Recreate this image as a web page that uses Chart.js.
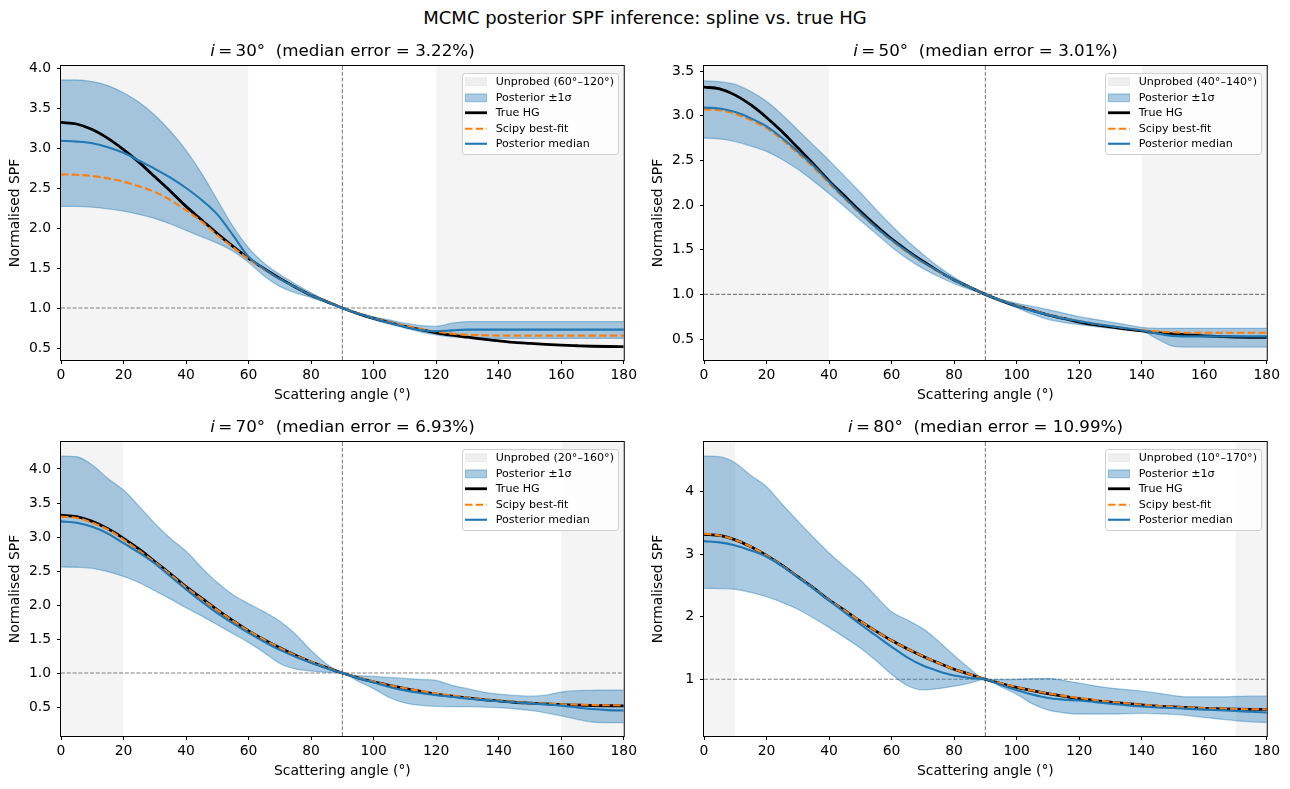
<!DOCTYPE html>
<html>
<head>
<meta charset="utf-8">
<script src="https://cdn.jsdelivr.net/npm/chart.js@4.4.1/dist/chart.umd.min.js"></script>
<style>
  body { margin: 0; width: 1290px; height: 789px; background: #fff; position: relative; overflow: hidden;
         font-family: "DejaVu Sans", sans-serif; color: #000; }
  .suptitle { position: absolute; left: 0; width: 1290px; top: 7px; line-height: 22px; text-align: center; font-size: 18px; }
  .ptitle { position: absolute; width: 563px; line-height: 20px; text-align: center; font-size: 16.7px; white-space: pre; }
  .leg { position: absolute; background: rgba(255,255,255,0.8); border: 1px solid #d0d0d0; border-radius: 3px;
         padding: 0 4px 2px 2px; font-size: 11.1px; }
  .row { display: flex; align-items: center; height: 15.5px; white-space: nowrap; }
  .row svg { width: 22px; height: 15.5px; margin-right: 8.5px; flex: none; }
</style>
</head>
<body>
<div class="suptitle">MCMC posterior SPF inference: spline vs. true HG</div>

<script>
// scattering angles (deg), every 5 deg
const angles = [0, 5, 10, 15, 20, 25, 30, 35, 40, 45, 50, 55, 60, 65, 70, 75, 80, 85, 90,
                95, 100, 105, 110, 115, 120, 125, 130, 135, 140, 145, 150, 155, 160, 165, 170, 175, 180];
const xTicks = [0, 20, 40, 60, 80, 100, 120, 140, 160, 180];

// true HG (same in all panels)
const trueHG = [3.32, 3.30, 3.23, 3.12, 2.98, 2.82, 2.64, 2.46, 2.27, 2.10, 1.93, 1.77, 1.62, 1.49, 1.37, 1.26, 1.16, 1.08, 1.00,
                0.93, 0.87, 0.82, 0.77, 0.73, 0.69, 0.66, 0.635, 0.61, 0.59, 0.57, 0.557, 0.545, 0.535, 0.528, 0.522, 0.519, 0.518];

// i = 30
const upper30  = [3.85, 3.85, 3.83, 3.78, 3.69, 3.57, 3.41, 3.21, 2.97, 2.68, 2.35, 2.02, 1.75, 1.56, 1.42, 1.30, 1.19, 1.09, 1.00,
                  0.94, 0.89, 0.85, 0.81, 0.78, 0.77, 0.81, 0.83, 0.83, 0.83, 0.83, 0.83, 0.83, 0.83, 0.83, 0.83, 0.83, 0.83];
const lower30  = [2.27, 2.27, 2.26, 2.24, 2.21, 2.17, 2.12, 2.05, 1.97, 1.89, 1.81, 1.71, 1.57, 1.40, 1.27, 1.19, 1.13, 1.065, 1.00,
                  0.92, 0.855, 0.80, 0.75, 0.70, 0.665, 0.64, 0.63, 0.625, 0.62, 0.62, 0.62, 0.62, 0.62, 0.62, 0.62, 0.62, 0.62];
const median30 = [3.09, 3.08, 3.06, 3.01, 2.94, 2.84, 2.74, 2.63, 2.50, 2.35, 2.17, 1.91, 1.64, 1.49, 1.36, 1.26, 1.16, 1.08, 1.00,
                  0.93, 0.87, 0.815, 0.765, 0.725, 0.71, 0.72, 0.73, 0.73, 0.73, 0.73, 0.73, 0.73, 0.73, 0.73, 0.73, 0.73, 0.73];
const scipy30  = [2.67, 2.665, 2.65, 2.62, 2.58, 2.52, 2.45, 2.35, 2.22, 2.08, 1.91, 1.76, 1.61, 1.48, 1.36, 1.26, 1.16, 1.08, 1.00,
                  0.935, 0.875, 0.825, 0.78, 0.74, 0.705, 0.68, 0.665, 0.66, 0.655, 0.655, 0.655, 0.655, 0.655, 0.655, 0.655, 0.655, 0.655];

// i = 50
const upper50  = [3.39, 3.38, 3.35, 3.27, 3.16, 3.01, 2.84, 2.67, 2.50, 2.32, 2.14, 1.95, 1.77, 1.60, 1.45, 1.31, 1.19, 1.09, 1.00,
                  0.945, 0.90, 0.865, 0.83, 0.79, 0.75, 0.72, 0.69, 0.66, 0.63, 0.62, 0.62, 0.62, 0.62, 0.62, 0.62, 0.62, 0.62];
const lower50  = [2.75, 2.74, 2.71, 2.66, 2.60, 2.51, 2.40, 2.27, 2.13, 1.98, 1.83, 1.68, 1.53, 1.40, 1.29, 1.20, 1.12, 1.055, 1.00,
                  0.92, 0.85, 0.78, 0.72, 0.685, 0.66, 0.64, 0.62, 0.605, 0.59, 0.50, 0.42, 0.41, 0.41, 0.41, 0.41, 0.41, 0.41];
const median50 = [3.09, 3.08, 3.04, 2.97, 2.88, 2.75, 2.60, 2.44, 2.26, 2.08, 1.91, 1.75, 1.61, 1.48, 1.36, 1.26, 1.16, 1.08, 1.00,
                  0.93, 0.87, 0.815, 0.77, 0.73, 0.70, 0.67, 0.645, 0.62, 0.595, 0.56, 0.535, 0.53, 0.53, 0.53, 0.53, 0.53, 0.53];
const scipy50  = [3.07, 3.06, 3.02, 2.95, 2.86, 2.73, 2.58, 2.42, 2.24, 2.07, 1.90, 1.745, 1.60, 1.47, 1.355, 1.255, 1.16, 1.08, 1.00,
                  0.935, 0.875, 0.82, 0.775, 0.735, 0.70, 0.67, 0.645, 0.62, 0.60, 0.585, 0.575, 0.57, 0.57, 0.57, 0.57, 0.57, 0.57];

// i = 70
const upper70  = [4.19, 4.18, 4.06, 3.86, 3.69, 3.45, 3.20, 2.98, 2.79, 2.55, 2.33, 2.15, 2.02, 1.90, 1.76, 1.57, 1.33, 1.13, 1.00,
                  0.96, 0.95, 0.935, 0.92, 0.905, 0.89, 0.82, 0.77, 0.72, 0.69, 0.67, 0.66, 0.675, 0.72, 0.74, 0.745, 0.75, 0.75];
const lower70  = [2.56, 2.555, 2.54, 2.49, 2.42, 2.33, 2.21, 2.09, 1.96, 1.84, 1.71, 1.58, 1.45, 1.30, 1.14, 1.06, 1.03, 1.01, 1.00,
                  0.88, 0.77, 0.64, 0.56, 0.525, 0.51, 0.505, 0.505, 0.50, 0.49, 0.475, 0.45, 0.415, 0.37, 0.32, 0.28, 0.27, 0.27];
const median70 = [3.23, 3.21, 3.15, 3.05, 2.91, 2.77, 2.61, 2.42, 2.23, 2.05, 1.88, 1.73, 1.59, 1.46, 1.34, 1.24, 1.15, 1.07, 1.00,
                  0.925, 0.86, 0.795, 0.745, 0.705, 0.675, 0.65, 0.625, 0.605, 0.585, 0.57, 0.555, 0.54, 0.52, 0.495, 0.47, 0.455, 0.45];
const scipy70  = [3.30, 3.28, 3.21, 3.11, 2.96, 2.80, 2.63, 2.45, 2.26, 2.09, 1.925, 1.765, 1.62, 1.49, 1.37, 1.26, 1.165, 1.08, 1.00,
                  0.935, 0.875, 0.82, 0.775, 0.735, 0.70, 0.67, 0.64, 0.615, 0.595, 0.575, 0.56, 0.55, 0.54, 0.535, 0.53, 0.527, 0.525];

// i = 80
const upper80  = [4.57, 4.56, 4.46, 4.26, 4.08, 3.80, 3.53, 3.27, 3.02, 2.80, 2.59, 2.33, 2.08, 1.95, 1.81, 1.61, 1.38, 1.17, 1.00,
                  0.995, 1.00, 1.01, 1.015, 0.98, 0.94, 0.895, 0.86, 0.835, 0.81, 0.78, 0.74, 0.72, 0.72, 0.72, 0.725, 0.73, 0.73];
const lower80  = [2.455, 2.45, 2.44, 2.39, 2.32, 2.23, 2.12, 1.98, 1.83, 1.67, 1.50, 1.30, 1.08, 0.90, 0.83, 0.85, 0.89, 0.94, 1.00,
                  0.88, 0.76, 0.61, 0.51, 0.465, 0.445, 0.445, 0.445, 0.45, 0.455, 0.45, 0.44, 0.42, 0.39, 0.365, 0.34, 0.32, 0.31];
const median80 = [3.21, 3.19, 3.14, 3.06, 2.96, 2.81, 2.63, 2.45, 2.26, 2.07, 1.88, 1.70, 1.52, 1.35, 1.22, 1.13, 1.06, 1.02, 1.00,
                  0.91, 0.83, 0.755, 0.70, 0.675, 0.66, 0.635, 0.61, 0.585, 0.565, 0.55, 0.54, 0.527, 0.515, 0.505, 0.495, 0.48, 0.47];
const scipy80  = [3.33, 3.30, 3.23, 3.12, 2.98, 2.82, 2.64, 2.46, 2.27, 2.10, 1.93, 1.77, 1.62, 1.49, 1.37, 1.26, 1.16, 1.08, 1.00,
                  0.935, 0.875, 0.82, 0.775, 0.735, 0.70, 0.67, 0.64, 0.615, 0.595, 0.575, 0.56, 0.55, 0.54, 0.532, 0.525, 0.521, 0.52];

// per panel info
const incl     = [30, 50, 70, 80];
const medErr   = ["3.22", "3.01", "6.93", "10.99"];
const probedLo = [60, 40, 20, 10];
const probedHi = [120, 140, 160, 170];
const yMins    = [0.35, 0.265, 0.074, 0.093];
const yMaxs    = [4.025, 3.556, 4.397, 4.795];
const yTicks   = [
  [0.5, 1.0, 1.5, 2.0, 2.5, 3.0, 3.5, 4.0],
  [0.5, 1.0, 1.5, 2.0, 2.5, 3.0, 3.5],
  [0.5, 1.0, 1.5, 2.0, 2.5, 3.0, 3.5, 4.0],
  [1, 2, 3, 4]
];
const yDecimals = [1, 1, 1, 0];

const uppers  = [upper30, upper50, upper70, upper80];
const lowers  = [lower30, lower50, lower70, lower80];
const medians = [median30, median50, median70, median80];
const scipys  = [scipy30, scipy50, scipy70, scipy80];

const SHADE = "rgba(128,128,128,0.085)";
const BAND = "rgba(31,119,180,0.38)";
const BAND_EDGE = "rgba(31,119,180,0.4)";

Chart.defaults.font.family = "DejaVu Sans";
Chart.defaults.color = "#000";
Chart.defaults.elements.point.radius = 0;

function pts(ys) {
  return angles.map((a, i) => ({ x: a, y: ys[i] }));
}

// full box round the axes, like matplotlib spines
const framePlugin = {
  id: "frame",
  afterDatasetsDraw(chart) {
    const a = chart.chartArea, ctx = chart.ctx;
    ctx.save();
    ctx.strokeStyle = "#000";
    ctx.lineWidth = 1;
    ctx.strokeRect(a.left - 0.5, a.top - 0.5, a.right - a.left + 1, a.bottom - a.top + 1);
    ctx.restore();
  }
};

function makePanel(k, left, top) {
  const cv = document.createElement("canvas");
  cv.width = 640; cv.height = 358;
  cv.style.cssText = "position:absolute;left:" + left + "px;top:" + top + "px";
  document.body.appendChild(cv);

  const yMin = yMins[k], yMax = yMaxs[k];
  const curve = { fill: false, pointRadius: 0, cubicInterpolationMode: "monotone" };

  new Chart(cv, {
    type: "line",
    data: {
      datasets: [
        { data: [{ x: 0, y: yMax }, { x: probedLo[k], y: yMax }], fill: "start", backgroundColor: SHADE, borderWidth: 0, order: 9 },
        { data: [{ x: probedHi[k], y: yMax }, { x: 180, y: yMax }], fill: "start", backgroundColor: SHADE, borderWidth: 0, order: 9 },
        { data: [{ x: 0, y: 1 }, { x: 180, y: 1 }], borderColor: "gray", borderWidth: 1.1, borderDash: [4, 1.8], fill: false, order: 8 },
        { data: [{ x: 90, y: yMin }, { x: 90, y: yMax }], borderColor: "gray", borderWidth: 1.1, borderDash: [4, 1.8], fill: false, order: 8 },
        Object.assign({ data: pts(uppers[k]), borderColor: BAND_EDGE, borderWidth: 1.3, order: 7 }, curve, { fill: "+1", backgroundColor: BAND }),
        Object.assign({ data: pts(lowers[k]), borderColor: BAND_EDGE, borderWidth: 1.3, order: 7 }, curve),
        Object.assign({ data: pts(trueHG), borderColor: "#000", borderWidth: 2.8, order: 3 }, curve),
        Object.assign({ data: pts(scipys[k]), borderColor: "#ff7f0e", borderWidth: 2.1, borderDash: [7.5, 3.2], order: 2 }, curve),
        Object.assign({ data: pts(medians[k]), borderColor: "#1f77b4", borderWidth: 2.1, order: 1 }, curve)
      ]
    },
    options: {
      responsive: false,
      animation: false,
      devicePixelRatio: 1,
      layout: { padding: { top: 16, right: 16, left: 0, bottom: 0 } },
      plugins: { legend: { display: false }, tooltip: { enabled: false } },
      scales: {
        x: {
          type: "linear", min: 0, max: 180,
          afterBuildTicks: ax => { ax.ticks = xTicks.map(v => ({ value: v })); },
          afterFit: s => { s.height = 48; },
          border: { display: false },
          grid: { drawOnChartArea: false, drawTicks: true, tickLength: 4, color: "#000", lineWidth: 1 },
          ticks: { font: { size: 13.9 }, padding: 3, maxRotation: 0, color: "#000" },
          title: { display: true, text: "Scattering angle (°)", font: { size: 13.9 }, padding: { top: 0, bottom: 4.7 }, color: "#000" }
        },
        y: {
          type: "linear", min: yMin, max: yMax,
          afterBuildTicks: ax => { ax.ticks = yTicks[k].map(v => ({ value: v })); },
          afterFit: s => { s.width = 61; },
          border: { display: false },
          grid: { drawOnChartArea: false, drawTicks: true, tickLength: 4, color: "#000", lineWidth: 1 },
          ticks: { font: { size: 13.9 }, padding: 6, color: "#000", callback: v => v.toFixed(yDecimals[k]) },
          title: { display: true, text: "Normalised SPF", font: { size: 13.9 }, padding: { top: 7, bottom: 0 }, color: "#000" }
        }
      }
    },
    plugins: [framePlugin]
  });

  // subplot title
  const t = document.createElement("div");
  t.className = "ptitle";
  t.style.left = (left + 61) + "px";
  t.style.top = (top + 16 - 26) + "px";
  t.innerHTML = "<i>i</i>\u2009=\u2009" + incl[k] + "°  (median error = " + medErr[k] + "%)";
  document.body.appendChild(t);

  // legend, top right inside the axes
  const leg = document.createElement("div");
  leg.className = "leg";
  leg.style.right = (1290 - (left + 61 + 563 - 5)) + "px";
  leg.style.top = (top + 16 + 7) + "px";
  const rows = [
    ['<rect x="0" y="3.9" width="22" height="7.8" fill="#efefef" stroke="#e9e9e9" stroke-width="1"/>', "Unprobed (" + probedLo[k] + "°–" + probedHi[k] + "°)"],
    ['<rect x="0.5" y="3.9" width="21" height="7.8" fill="' + BAND + '" stroke="' + BAND_EDGE + '" stroke-width="1"/>', "Posterior ±1σ"],
    ['<line x1="0" y1="7.75" x2="22" y2="7.75" stroke="#000" stroke-width="2.8"/>', "True HG"],
    ['<line x1="0" y1="7.75" x2="22" y2="7.75" stroke="#ff7f0e" stroke-width="2.1" stroke-dasharray="7.5 3.2"/>', "Scipy best-fit"],
    ['<line x1="0" y1="7.75" x2="22" y2="7.75" stroke="#1f77b4" stroke-width="2.1"/>', "Posterior median"]
  ];
  rows.forEach(r => {
    const d = document.createElement("div");
    d.className = "row";
    d.innerHTML = '<svg viewBox="0 0 22 15.5">' + r[0] + "</svg><span>" + r[1] + "</span>";
    leg.appendChild(d);
  });
  document.body.appendChild(leg);
}

makePanel(0, 0, 50);
makePanel(1, 643, 50);
makePanel(2, 0, 426);
makePanel(3, 643, 426);
</script>
</body>
</html>
